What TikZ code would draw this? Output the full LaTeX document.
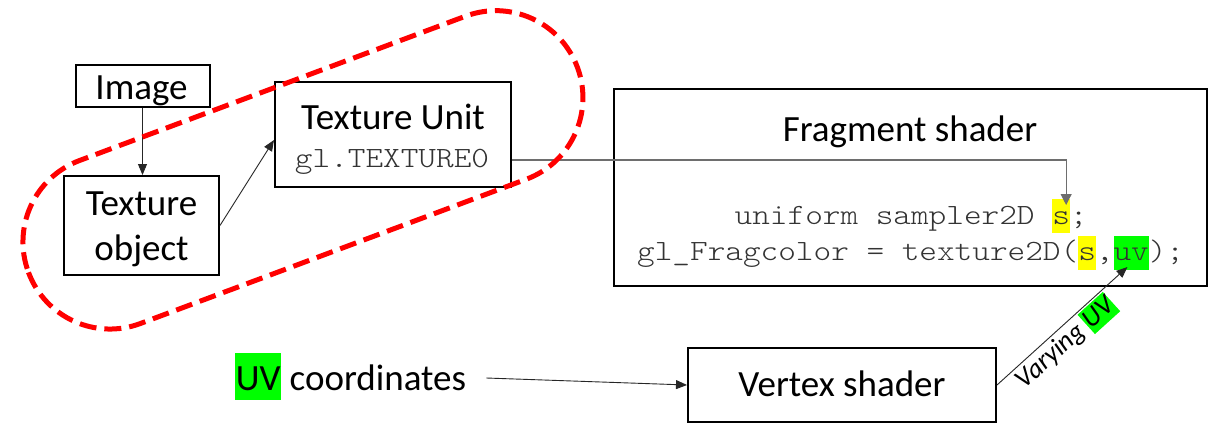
\documentclass[tikz,border=0pt]{standalone}
\usepackage{fontspec}
\setmainfont{Carlito}
\setmonofont{lmmonolt10-regular.otf}[FakeStretch=1.143]
\usetikzlibrary{arrows.meta,calc}
\definecolor{codegray}{HTML}{333333}
\definecolor{linegray}{HTML}{6E6E6E}
\definecolor{hlyellow}{HTML}{FFFF00}
\definecolor{hlgreen}{HTML}{00FF00}
% highlighted code token
\newcommand\hlmark[2]{{\setlength{\fboxsep}{0pt}\colorbox{#1}{\vrule width 0pt height 25pt depth 9pt\relax #2}}}
% highlighted word in sans text
\newcommand\hlword[4]{{\setlength{\fboxsep}{0pt}\colorbox{#1}{\vrule width 0pt height #2 depth #3\relax\hspace{0.7pt}#4\hspace{0.7pt}}}}
\newcommand\labelfont{\fontsize{37}{44}\selectfont}
\newcommand\codefont{\ttfamily\fontsize{29.4}{35}\selectfont\color{codegray}}

\begin{document}
\begin{tikzpicture}[x=1pt,y=-1pt,
  box/.style={draw=black, line width=2pt, fill=white, inner sep=0pt},
  lbl/.style={inner sep=0pt, anchor=base, font=\labelfont},
  code/.style={inner sep=0pt, anchor=base west, font=\codefont},
  arr/.style={-{Triangle[length=11pt,width=9pt]}, line width=0.9pt, draw=black!85},
  feed/.style={-{Triangle[length=11pt,width=11pt]}, line width=1.1pt, draw=linegray},
  group/.style={draw=red, line width=5pt, dash pattern=on 17pt off 8pt, rounded corners=86.9pt}]

\useasboundingbox (0,0) rectangle (1218,423);
\fill[white] (0,0) rectangle (1218,423);

% boxes
\node[box, minimum width=134pt, minimum height=42pt] (img) at (142.5,86) {};
\node[box, minimum width=155pt, minimum height=99pt] (tobj) at (141.5,225.5) {};
\node[box, minimum width=236pt, minimum height=105pt] (tunit) at (393,134.5) {};
\node[box, minimum width=593pt, minimum height=197pt] (frag) at (910.5,187.5) {};
\node[box, minimum width=308pt, minimum height=74pt] (vert) at (842,385) {};

% box texts
\node[lbl] (imgT) at (141.5,99) {Image};
\node[lbl] (tobjA) at (141.5,215) {Texture};
\node[lbl] (tobjB) at (141.5,260) {object};
\node[lbl] (tunitA) at (393,129.5) {Texture Unit};
\node[lbl, font=\codefont] (tunitB) at (392,167) {gl.TEXTURE0};
\node[lbl] (fragT) at (910,141.7) {Fragment shader};
\node[code] (code1) at (734.5,224) {uniform sampler2D \hlmark{hlyellow}{s};};
\node[code] (code2) at (637,260.7) {gl\_Fragcolor = texture2D(\hlmark{hlyellow}{s},\hlmark{hlgreen}{uv});};
\node[lbl] (vertT) at (842,396.7) {Vertex shader};
\node[inner sep=0pt, anchor=base west, font=\labelfont] (uvT) at (235,390)
  {\hlword{hlgreen}{37pt}{10pt}{UV} coordinates};

% points on the highlighted code tokens
\coordinate (sTop) at ($(code1.base west)+(18.8*17.64,-19)$);
\coordinate (uvBot) at ($(code2.base west)+(27.8*17.64,6.3)$);

% connectors
\draw[arr] (img.south) -- (img.south |- tobj.north);
\draw[arr] (tobj.east) -- ([yshift=-5.5pt]tunit.west);
\draw[feed] ([yshift=-25.5pt]tunit.east) -| (sTop);
\draw[arr] ([xshift=20pt,yshift=-1.5pt]uvT.east) -- (vert.west);
\draw[arr] (vert.east) -- (uvBot)
  node[pos=0.45, sloped, below, inner sep=1.5pt, font=\itshape\fontsize{27}{30}\selectfont] (varT)
  {Varying \hlword{hlgreen}{20pt}{6pt}{UV}};

% texture object and unit grouped by a dashed outline
\draw[group, shift={(110,242)}, rotate=20.5] (-87,-87) rectangle (499,87);
\end{tikzpicture}
\end{document}
